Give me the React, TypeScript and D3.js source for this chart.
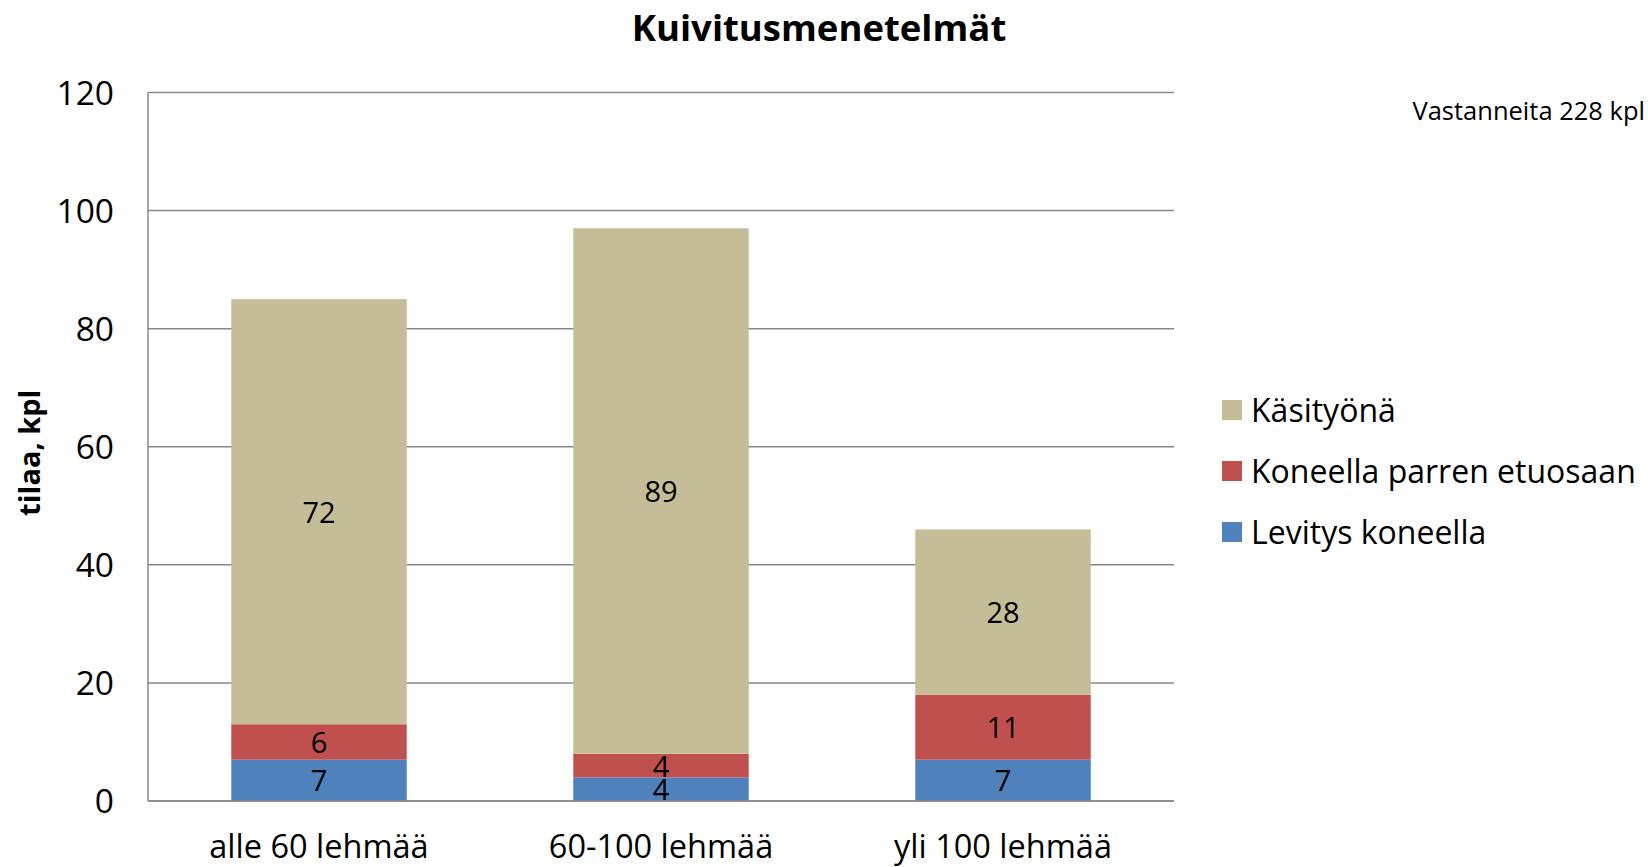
import React from "react";
import * as d3 from "d3";

const categories = ["alle 60 lehmää", "60-100 lehmää", "yli 100 lehmää"];
const seriesNames = ["Levitys koneella", "Koneella parren etuosaan", "Käsityönä"];
const levitys = [7, 4, 7];
const koneella = [6, 4, 11];
const kasityona = [72, 89, 28];
const seriesColors = ["#4F81BD", "#C0504D", "#C4BD97"];
const yTicks = [0, 20, 40, 60, 80, 100, 120];
const title = "Kuivitusmenetelmät";
const yTitle = "tilaa, kpl";
const note = "Vastanneita 228 kpl";

const W = 1648;
const H = 867;
const FONT = "'Open Sans', 'Noto Sans', sans-serif";

export default function App() {
  const left = 148, right = 1174, top = 92.5, bottom = 801;
  const x = d3.scaleBand<string>().domain(categories).range([left, right]).paddingInner(0.487).paddingOuter(0.2435);
  const y = d3.scaleLinear().domain([0, 120]).range([bottom, top]);

  const rows = categories.map((c, i) => ({ cat: c, s0: levitys[i], s1: koneella[i], s2: kasityona[i] }));
  const stack = d3.stack<any>().keys(["s0", "s1", "s2"]);
  const layers = stack(rows);

  const legendOrder = [2, 1, 0];

  return (
    <svg width={W} height={H} style={{ position: "absolute", left: 0, top: 0, background: "#fff" }} fontFamily={FONT}>
      <rect x={0} y={0} width={W} height={H} fill="#fff" />
      <text x={819} y={41} textAnchor="middle" fontSize={36.5} fontWeight="bold" fill="#000">{title}</text>
      <text x={1645} y={120} textAnchor="end" fontSize={25.5} fill="#000">{note}</text>

      {yTicks.map((t) => (
        <g key={t}>
          <line x1={left} x2={right} y1={y(t)} y2={y(t)} stroke="#888" strokeWidth={1.5} />
          <text x={114} y={y(t)} dy="0.36em" textAnchor="end" fontSize={33.5} fill="#000">{t}</text>
        </g>
      ))}
      <line x1={left} x2={left} y1={top} y2={bottom} stroke="#888" strokeWidth={1.5} />

      {layers.map((layer, li) => (
        <g key={li} fill={seriesColors[li]}>
          {layer.map((d: any, i: number) => (
            <rect key={i} x={x(categories[i])} y={y(d[1])} width={x.bandwidth()} height={y(d[0]) - y(d[1])} />
          ))}
        </g>
      ))}
      {layers.map((layer, li) => (
        <g key={"l" + li}>
          {layer.map((d: any, i: number) => (
            <text key={i} x={(x(categories[i]) as number) + x.bandwidth() / 2} y={(y(d[0]) + y(d[1])) / 2} dy="0.38em"
              textAnchor="middle" fontSize={29} fill="#000">{d[1] - d[0]}</text>
          ))}
        </g>
      ))}
      <line x1={left} x2={right} y1={bottom} y2={bottom} stroke="#888" strokeWidth={1.5} />

      {categories.map((c) => (
        <text key={c} x={(x(c) as number) + x.bandwidth() / 2} y={857.5} textAnchor="middle" fontSize={32.5} fill="#000">{c}</text>
      ))}

      <text transform={`translate(40, ${y(60) + 6}) rotate(-90)`} textAnchor="middle" fontSize={29} fontWeight="bold" fill="#000">{yTitle}</text>

      {legendOrder.map((si, k) => {
        const cy = 410 + k * 61;
        return (
          <g key={si}>
            <rect x={1222} y={cy - 10} width={20} height={20} fill={seriesColors[si]} />
            <text x={1251} y={cy} dy="0.36em" fontSize={32} fill="#000">{seriesNames[si]}</text>
          </g>
        );
      })}
    </svg>
  );
}
